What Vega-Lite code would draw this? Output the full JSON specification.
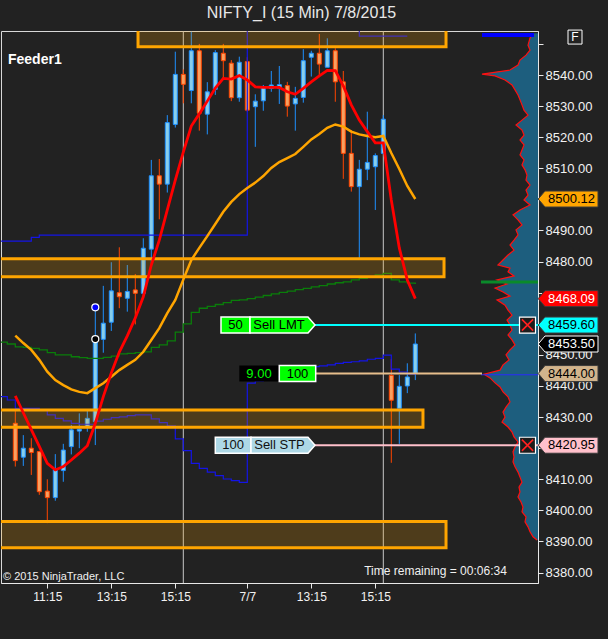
{
  "$schema": "https://vega.github.io/schema/vega-lite/v6.json",
  "width": 537,
  "height": 552,
  "autosize": {"type": "none"},
  "padding": {"left": 1, "top": 31, "right": 70, "bottom": 56},
  "background": "#222222",
  "config": {
    "font": "Liberation Sans",
    "view": {"stroke": "#d8d8d8", "strokeWidth": 1, "fill": "#222222"}
  },
  "title": {"text": "NIFTY_I (15 Min)  7/8/2015", "color": "#e8e8e8", "fontSize": 16, "fontWeight": "normal", "font": "Liberation Sans", "anchor": "middle", "frame": "group", "offset": 7, "dx": 32},
  "datasets": {
    "bars": [
      {"i":0,"o":8428.0,"h":8432.1,"l":8414.1,"c":8416.0},
      {"i":1,"o":8417.1,"h":8424.2,"l":8414.3,"c":8420.0},
      {"i":2,"o":8420.0,"h":8423.2,"l":8411.4,"c":8418.6},
      {"i":3,"o":8418.9,"h":8419.0,"l":8405.0,"c":8406.0},
      {"i":4,"o":8406.2,"h":8410.0,"l":8395.9,"c":8404.1},
      {"i":5,"o":8404.1,"h":8418.1,"l":8403.1,"c":8413.0},
      {"i":6,"o":8412.8,"h":8421.4,"l":8409.2,"c":8419.4},
      {"i":7,"o":8420.5,"h":8427.5,"l":8418.0,"c":8425.9},
      {"i":8,"o":8425.5,"h":8431.2,"l":8420.0,"c":8426.1},
      {"i":9,"o":8426.9,"h":8432.0,"l":8425.3,"c":8429.6},
      {"i":10,"o":8428.5,"h":8465.3,"l":8421.0,"c":8454.8},
      {"i":11,"o":8455.0,"h":8472.2,"l":8450.7,"c":8460.2},
      {"i":12,"o":8460.5,"h":8479.8,"l":8457.7,"c":8470.6},
      {"i":13,"o":8470.0,"h":8484.6,"l":8465.0,"c":8468.7},
      {"i":14,"o":8468.2,"h":8478.9,"l":8463.9,"c":8470.4},
      {"i":15,"o":8470.9,"h":8476.0,"l":8459.8,"c":8469.8},
      {"i":16,"o":8469.8,"h":8487.5,"l":8468.5,"c":8484.3},
      {"i":17,"o":8484.0,"h":8512.7,"l":8478.9,"c":8507.6},
      {"i":18,"o":8507.6,"h":8513.0,"l":8493.6,"c":8504.9},
      {"i":19,"o":8504.9,"h":8527.1,"l":8502.2,"c":8524.7},
      {"i":20,"o":8524.1,"h":8547.5,"l":8523.1,"c":8540.2},
      {"i":21,"o":8540.2,"h":8541.8,"l":8530.9,"c":8537.0},
      {"i":22,"o":8535.0,"h":8553.9,"l":8530.9,"c":8547.8},
      {"i":23,"o":8547.8,"h":8550.0,"l":8522.1,"c":8527.7},
      {"i":24,"o":8527.4,"h":8537.7,"l":8520.9,"c":8534.6},
      {"i":25,"o":8535.4,"h":8548.0,"l":8533.6,"c":8547.2},
      {"i":26,"o":8547.0,"h":8550.0,"l":8538.9,"c":8544.6},
      {"i":27,"o":8543.8,"h":8544.8,"l":8531.6,"c":8532.7},
      {"i":28,"o":8532.7,"h":8545.9,"l":8531.4,"c":8544.1},
      {"i":29,"o":8544.3,"h":8545.7,"l":8528.2,"c":8528.7},
      {"i":30,"o":8529.8,"h":8533.8,"l":8516.9,"c":8531.6},
      {"i":31,"o":8531.7,"h":8536.8,"l":8528.5,"c":8536.0},
      {"i":32,"o":8535.7,"h":8541.3,"l":8534.6,"c":8536.8},
      {"i":33,"o":8535.8,"h":8542.9,"l":8530.7,"c":8536.9},
      {"i":34,"o":8536.6,"h":8537.8,"l":8526.6,"c":8530.0},
      {"i":35,"o":8530.7,"h":8536.2,"l":8522.1,"c":8532.5},
      {"i":36,"o":8532.8,"h":8548.3,"l":8531.1,"c":8544.6},
      {"i":37,"o":8545.7,"h":8547.8,"l":8539.5,"c":8547.0},
      {"i":38,"o":8547.0,"h":8553.2,"l":8540.0,"c":8543.5},
      {"i":39,"o":8542.5,"h":8551.8,"l":8542.5,"c":8547.8},
      {"i":40,"o":8547.8,"h":8548.6,"l":8531.4,"c":8537.8},
      {"i":41,"o":8537.8,"h":8541.3,"l":8506.6,"c":8514.8},
      {"i":42,"o":8514.8,"h":8522.3,"l":8502.5,"c":8504.1},
      {"i":43,"o":8504.1,"h":8512.7,"l":8481.2,"c":8509.7},
      {"i":44,"o":8509.7,"h":8528.2,"l":8506.2,"c":8511.9},
      {"i":45,"o":8510.5,"h":8514.8,"l":8496.6,"c":8514.1},
      {"i":46,"o":8514.8,"h":8527.1,"l":8514.5,"c":8525.8},
      {"i":47,"o":8443.4,"h":8448.6,"l":8415.3,"c":8435.4},
      {"i":48,"o":8432.8,"h":8443.5,"l":8421.4,"c":8439.9},
      {"i":49,"o":8440.0,"h":8447.3,"l":8437.7,"c":8442.9},
      {"i":50,"o":8444.1,"h":8456.9,"l":8441.9,"c":8453.5}
    ],
    "ma": [
      {"i":0,"f":8436.8,"s":8456.2},{"i":1,"f":8431.4,"s":8453.8},{"i":2,"f":8426.0,"s":8451.6},
      {"i":3,"f":8420.6,"s":8448.4},{"i":4,"f":8415.1,"s":8444.6},{"i":5,"f":8413.0,"s":8441.9},
      {"i":6,"f":8414.1,"s":8440.3},{"i":7,"f":8416.2,"s":8438.9},{"i":8,"f":8418.4,"s":8438.1},
      {"i":9,"f":8420.8,"s":8437.7},{"i":10,"f":8428.0,"s":8439.3},{"i":11,"f":8436.6,"s":8440.9},
      {"i":12,"f":8444.2,"s":8443.0},{"i":13,"f":8450.9,"s":8445.1},{"i":14,"f":8456.1,"s":8446.8},
      {"i":15,"f":8461.9,"s":8448.4},{"i":16,"f":8468.7,"s":8451.0},{"i":17,"f":8478.9,"s":8454.8},
      {"i":18,"f":8486.9,"s":8458.6},{"i":19,"f":8496.6,"s":8463.4},{"i":20,"f":8506.2,"s":8467.7},
      {"i":21,"f":8515.2,"s":8474.2},{"i":22,"f":8523.6,"s":8480.5},{"i":23,"f":8527.5,"s":8484.4},
      {"i":24,"f":8531.6,"s":8488.2},{"i":25,"f":8535.8,"s":8492.1},{"i":26,"f":8538.9,"s":8496.0},
      {"i":27,"f":8538.7,"s":8499.2},{"i":28,"f":8539.8,"s":8501.7},{"i":29,"f":8538.4,"s":8503.7},
      {"i":30,"f":8536.2,"s":8505.4},{"i":31,"f":8536.0,"s":8507.5},{"i":32,"f":8536.0,"s":8510.1},
      {"i":33,"f":8536.0,"s":8512.0},{"i":34,"f":8534.6,"s":8513.3},{"i":35,"f":8533.8,"s":8514.6},
      {"i":36,"f":8535.7,"s":8516.9},{"i":37,"f":8537.8,"s":8519.3},{"i":38,"f":8539.7,"s":8521.0},
      {"i":39,"f":8541.5,"s":8523.0},{"i":40,"f":8541.4,"s":8524.1},{"i":41,"f":8536.5,"s":8523.4},
      {"i":42,"f":8530.4,"s":8521.8},{"i":43,"f":8525.5,"s":8520.9},{"i":44,"f":8521.8,"s":8520.4},
      {"i":45,"f":8518.2,"s":8520.0},{"i":46,"f":8518.2,"s":8520.4},{"i":47,"f":8499.8,"s":8514.9},
      {"i":48,"f":8484.4,"s":8509.8},{"i":49,"f":8474.1,"s":8504.3},{"i":50,"f":8468.09,"s":8500.12}
    ],
    "steps": [
      {"i":-2,"g":8454.1,"b1":8436.6,"b2":8486.6},{"i":-1,"g":8453.5,"b1":8435.5,"b2":8486.6},
      {"i":0,"g":8452.6,"b1":8432.8,"b2":8486.6},{"i":1,"g":8452.4,"b1":8432.8,"b2":8486.6},
      {"i":2,"g":8452.1,"b1":8432.8,"b2":8487.8},{"i":3,"g":8451.6,"b1":8432.3,"b2":8488.5},
      {"i":4,"g":8450.7,"b1":8430.7,"b2":8488.5},{"i":5,"g":8450.0,"b1":8429.6,"b2":8488.5},
      {"i":6,"g":8450.0,"b1":8428.8,"b2":8488.5},{"i":7,"g":8449.4,"b1":8428.0,"b2":8488.5},
      {"i":8,"g":8449.1,"b1":8427.7,"b2":8488.5},{"i":9,"g":8448.9,"b1":8427.7,"b2":8488.5},
      {"i":10,"g":8448.9,"b1":8428.7,"b2":8488.5},{"i":11,"g":8449.2,"b1":8429.3,"b2":8488.5},
      {"i":12,"g":8449.6,"b1":8429.8,"b2":8488.5},{"i":13,"g":8450.3,"b1":8430.1,"b2":8488.5},
      {"i":14,"g":8450.5,"b1":8430.5,"b2":8488.5},{"i":15,"g":8450.7,"b1":8430.7,"b2":8488.5},
      {"i":16,"g":8451.0,"b1":8430.7,"b2":8488.5},{"i":17,"g":8452.4,"b1":8429.4,"b2":8488.5},
      {"i":18,"g":8453.2,"b1":8428.2,"b2":8488.5},{"i":19,"g":8454.5,"b1":8427.2,"b2":8488.5},
      {"i":20,"g":8457.3,"b1":8423.0,"b2":8488.5},{"i":21,"g":8460.0,"b1":8419.2,"b2":8488.5},
      {"i":22,"g":8463.7,"b1":8415.1,"b2":8488.5},{"i":23,"g":8465.0,"b1":8413.5,"b2":8488.5},
      {"i":24,"g":8465.6,"b1":8412.3,"b2":8488.5},{"i":25,"g":8466.2,"b1":8411.2,"b2":8488.5},
      {"i":26,"g":8466.8,"b1":8410.1,"b2":8488.5},{"i":27,"g":8467.5,"b1":8409.6,"b2":8488.5},
      {"i":28,"g":8467.7,"b1":8409.0,"b2":8488.5},{"i":29,"g":8468.1,"b1":8440.9,"b2":8570},
      {"i":30,"g":8468.6,"b1":8441.6,"b2":8570},{"i":31,"g":8469.1,"b1":8442.3,"b2":8570},
      {"i":32,"g":8469.6,"b1":8442.9,"b2":8570},{"i":33,"g":8470.1,"b1":8443.5,"b2":8570},
      {"i":34,"g":8470.5,"b1":8444.2,"b2":8570},{"i":35,"g":8471.0,"b1":8444.8,"b2":8570},
      {"i":36,"g":8471.4,"b1":8445.8,"b2":8570},{"i":37,"g":8471.9,"b1":8446.2,"b2":8570},
      {"i":38,"g":8472.3,"b1":8446.5,"b2":8570},{"i":39,"g":8472.8,"b1":8446.8,"b2":8570},
      {"i":40,"g":8473.2,"b1":8447.3,"b2":8570},{"i":41,"g":8473.5,"b1":8447.6,"b2":8570},
      {"i":42,"g":8474.1,"b1":8447.8,"b2":8570},{"i":43,"g":8474.6,"b1":8448.1,"b2":8552.5},
      {"i":44,"g":8475.1,"b1":8448.6,"b2":8552.5},{"i":45,"g":8475.7,"b1":8448.9,"b2":8552.5},
      {"i":46,"g":8476.2,"b1":8449.9,"b2":8552.5},{"i":47,"g":8474.1,"b1":8445.4,"b2":8552.5},
      {"i":48,"g":8473.5,"b1":8444.5,"b2":8552.5},{"i":49,"g":8473.1,"b1":8443.9,"b2":8552.5},
      {"i":50,"g":8472.8,"b1":8443.5,"b2":null}
    ],
    "zones": [
      {"x1":15.34,"x2":53.84,"top":8560,"bot":8549.1},
      {"x1":-3,"x2":53.59,"top":8480.9,"bot":8475.1},
      {"x1":-3,"x2":50.96,"top":8432.3,"bot":8426.7},
      {"x1":-3,"x2":53.84,"top":8396.4,"bot":8388.0}
    ],
    "profile": [
      {"price":8553.4,"vol":5},{"price":8551.9,"vol":8},{"price":8549.6,"vol":10},{"price":8548.0,"vol":8},
      {"price":8546.4,"vol":12},{"price":8544.8,"vol":18},{"price":8543.2,"vol":20},{"price":8541.6,"vol":28},
      {"price":8540.3,"vol":56},{"price":8539.7,"vol":43},{"price":8538.4,"vol":33},{"price":8536.8,"vol":26},
      {"price":8535.2,"vol":23},{"price":8533.6,"vol":20},{"price":8532.0,"vol":18},{"price":8530.4,"vol":16},
      {"price":8528.7,"vol":14},{"price":8527.1,"vol":10},{"price":8525.5,"vol":16},{"price":8523.9,"vol":22},
      {"price":8522.3,"vol":16},{"price":8520.7,"vol":14},{"price":8519.1,"vol":18},{"price":8517.5,"vol":14},
      {"price":8515.9,"vol":16},{"price":8514.3,"vol":18},{"price":8512.7,"vol":14},{"price":8511.1,"vol":16},
      {"price":8509.5,"vol":13},{"price":8507.8,"vol":11},{"price":8506.2,"vol":12},{"price":8504.6,"vol":8},
      {"price":8503.0,"vol":12},{"price":8501.4,"vol":10},{"price":8499.8,"vol":14},{"price":8498.2,"vol":8},
      {"price":8496.6,"vol":18},{"price":8495.0,"vol":25},{"price":8493.4,"vol":20},{"price":8491.8,"vol":16},
      {"price":8490.2,"vol":22},{"price":8488.6,"vol":20},{"price":8486.9,"vol":24},{"price":8485.3,"vol":28},
      {"price":8483.7,"vol":24},{"price":8482.1,"vol":30},{"price":8480.5,"vol":35},{"price":8478.9,"vol":40},
      {"price":8477.9,"vol":28},{"price":8476.7,"vol":30},{"price":8475.4,"vol":24},{"price":8474.1,"vol":41},
      {"price":8472.8,"vol":31},{"price":8471.5,"vol":43},{"price":8470.2,"vol":35},{"price":8468.9,"vol":28},
      {"price":8467.7,"vol":41},{"price":8466.0,"vol":33},{"price":8464.4,"vol":30},{"price":8462.8,"vol":26},
      {"price":8461.2,"vol":31},{"price":8459.6,"vol":28},{"price":8458.0,"vol":26},{"price":8456.4,"vol":30},
      {"price":8454.8,"vol":26},{"price":8453.2,"vol":23},{"price":8451.6,"vol":28},{"price":8450.0,"vol":32},
      {"price":8448.4,"vol":29},{"price":8446.8,"vol":35},{"price":8445.1,"vol":38},{"price":8443.8,"vol":54},
      {"price":8442.6,"vol":48},{"price":8441.0,"vol":43},{"price":8439.7,"vol":38},{"price":8438.1,"vol":35},
      {"price":8436.5,"vol":30},{"price":8434.9,"vol":28},{"price":8433.2,"vol":32},{"price":8431.6,"vol":35},
      {"price":8430.0,"vol":33},{"price":8428.4,"vol":36},{"price":8426.8,"vol":30},{"price":8425.2,"vol":26},
      {"price":8423.6,"vol":24},{"price":8422.0,"vol":20},{"price":8420.4,"vol":23},{"price":8418.8,"vol":25},
      {"price":8417.2,"vol":24},{"price":8415.6,"vol":25},{"price":8414.0,"vol":23},{"price":8412.3,"vol":20},
      {"price":8410.7,"vol":18},{"price":8409.1,"vol":16},{"price":8407.5,"vol":19},{"price":8405.9,"vol":18},
      {"price":8404.3,"vol":20},{"price":8402.7,"vol":17},{"price":8401.1,"vol":15},{"price":8399.5,"vol":16},
      {"price":8397.9,"vol":12},{"price":8396.3,"vol":13},{"price":8394.7,"vol":10},{"price":8393.1,"vol":8},
      {"price":8391.5,"vol":5},{"price":8390.5,"vol":1}
    ],
    "flags": [
      {"p":8500.12,"k":"slow"},{"p":8468.09,"k":"fast"},{"p":8459.60,"k":"lmt"},
      {"p":8453.50,"k":"last"},{"p":8444.00,"k":"pos"},{"p":8420.95,"k":"stp"}
    ],
    "orders": [{"p":8459.60,"k":"lmt"},{"p":8420.95,"k":"stp"}],
    "lmt": [{"p":8459.60,"q":"50","t":"Sell LMT"}],
    "stp": [{"p":8420.95,"q":"100","t":"Sell STP"}],
    "pos": [{"p":8444.00,"pnl":"9.00","q":"100"}]
  },
  "resolve": {"scale": {"x": "independent", "y": "independent"}, "axis": {"x": "independent", "y": "independent"}},
  "layer": [
    {
      "data": {"name": "profile"},
      "layer": [
        {
          "mark": {"type": "area", "orient": "horizontal", "color": "#1d5e7e"},
          "encoding": {
            "y": {"field": "price", "type": "quantitative", "scale": {"domain": [8376.65, 8554.15], "nice": false, "zero": false}, "axis": null},
            "x": {"field": "vol", "type": "quantitative", "stack": null, "scale": {"domain": [0, 537], "reverse": true, "nice": false, "zero": false, "padding": 0}, "axis": null},
            "x2": {"datum": 0}
          }
        },
        {
          "mark": {"type": "line", "color": "#ff1010", "strokeWidth": 1.2},
          "encoding": {
            "y": {"field": "price", "type": "quantitative", "axis": null},
            "x": {"field": "vol", "type": "quantitative", "axis": null},
            "order": {"field": "price"}
          }
        },
        {
          "data": {"values": [{"p": 8552.9}]},
          "mark": {"type": "rule", "color": "#0000ff", "strokeWidth": 4},
          "encoding": {"y": {"field": "p", "type": "quantitative", "axis": null}, "x": {"datum": 56, "type": "quantitative", "axis": null}, "x2": {"datum": 4}}
        },
        {
          "data": {"values": [{"p": 8473.4}]},
          "mark": {"type": "rule", "color": "#0a8a2a", "strokeWidth": 3},
          "encoding": {"y": {"field": "p", "type": "quantitative", "axis": null}, "x": {"datum": 57, "type": "quantitative", "axis": null}, "x2": {"datum": 0}}
        },
        {
          "data": {"values": [{"p": 8443.6}]},
          "mark": {"type": "rule", "color": "#2a2aff", "strokeWidth": 1},
          "encoding": {"y": {"field": "p", "type": "quantitative", "axis": null}, "x": {"datum": 57, "type": "quantitative", "axis": null}, "x2": {"datum": 0}}
        }
      ]
    },
    {
      "layer": [
        {
          "data": {"values": [{"i": 21}, {"i": 46}]},
          "mark": {"type": "rule", "color": "#c8c8c8", "strokeWidth": 1},
          "encoding": {"x": {"field": "i", "type": "quantitative"}}
        },
        {
          "data": {"name": "bars"},
          "mark": {"type": "rule", "strokeWidth": 1, "clip": true},
          "encoding": {
            "x": {"field": "i", "type": "quantitative", "scale": {"domain": [-1.7875, 65.3375], "nice": false, "zero": false, "padding": 0},
              "axis": {"orient": "bottom", "values": [4, 12, 20, 29, 37, 45], "labelExpr": "datum.value == 4 ? '11:15' : datum.value == 12 ? '13:15' : datum.value == 20 ? '15:15' : datum.value == 29 ? '7/7' : datum.value == 37 ? '13:15' : '15:15'", "title": null, "grid": false, "tickSize": 5, "tickColor": "#e8e8e8", "domainColor": "#e8e8e8", "labelColor": "#f2f2f2", "labelFontSize": 12, "labelFont": "Liberation Sans", "labelPadding": 3, "labelFlush": false, "labelOverlap": false, "zindex": 0}},
            "y": {"field": "l", "type": "quantitative", "scale": {"domain": [8376.65, 8554.15], "nice": false, "zero": false},
              "axis": {"orient": "right", "tickCount": 17, "labelExpr": "(datum.value == 8550 || datum.value == 8500 || datum.value == 8470 || datum.value == 8460 || datum.value == 8420) ? '' : format(datum.value, '.2f')", "title": null, "grid": false, "tickSize": 5, "tickColor": "#e8e8e8", "domainColor": "#e8e8e8", "labelColor": "#f2f2f2", "labelFontSize": 13, "labelFont": "Liberation Sans", "labelPadding": 2, "labelFlush": false, "labelOverlap": false, "labelBaseline": "middle", "zindex": 0}},
            "y2": {"field": "h"},
            "color": {"condition": {"test": "datum.c >= datum.o", "value": "#1E90FF"}, "value": "#FF4500"}
          }
        },
        {
          "data": {"name": "bars"},
          "mark": {"type": "bar", "width": 4, "strokeWidth": 1, "clip": true},
          "encoding": {
            "x": {"field": "i", "type": "quantitative"},
            "y": {"field": "o", "type": "quantitative"},
            "y2": {"field": "c"},
            "fill": {"condition": {"test": "datum.c >= datum.o", "value": "#87CEEB"}, "value": "#F8A060"},
            "stroke": {"condition": {"test": "datum.c >= datum.o", "value": "#1E90FF"}, "value": "#FF4500"}
          }
        },
        {
          "data": {"name": "steps"},
          "mark": {"type": "line", "color": "#0a7d0a", "strokeWidth": 1.3, "interpolate": "step-after", "clip": true},
          "encoding": {"x": {"field": "i", "type": "quantitative"}, "y": {"field": "g", "type": "quantitative"}}
        },
        {
          "data": {"name": "steps"},
          "mark": {"type": "line", "color": "#1414e6", "strokeWidth": 1.2, "interpolate": "step-after", "clip": true},
          "encoding": {"x": {"field": "i", "type": "quantitative"}, "y": {"field": "b1", "type": "quantitative"}}
        },
        {
          "data": {"name": "steps"},
          "mark": {"type": "line", "color": "#1414e6", "strokeWidth": 1.2, "interpolate": "step-after", "clip": true},
          "encoding": {"x": {"field": "i", "type": "quantitative"}, "y": {"field": "b2", "type": "quantitative"}}
        },
        {
          "data": {"name": "zones"},
          "mark": {"type": "rect", "fill": "#FFA500", "fillOpacity": 0.2, "stroke": "#FFA500", "strokeWidth": 3, "clip": true},
          "encoding": {
            "x": {"field": "x1", "type": "quantitative"},
            "x2": {"field": "x2"},
            "y": {"field": "top", "type": "quantitative"},
            "y2": {"field": "bot"}
          }
        },
        {
          "data": {"name": "ma"},
          "mark": {"type": "line", "color": "#FFA500", "strokeWidth": 2.5, "clip": true},
          "encoding": {"x": {"field": "i", "type": "quantitative"}, "y": {"field": "s", "type": "quantitative"}}
        },
        {
          "data": {"name": "ma"},
          "mark": {"type": "line", "color": "#FF0000", "strokeWidth": 2.8, "clip": true},
          "encoding": {"x": {"field": "i", "type": "quantitative"}, "y": {"field": "f", "type": "quantitative"}}
        },
        {
          "data": {"values": [{"i": 10, "p": 8465.3, "k": "up"}, {"i": 10, "p": 8455.1, "k": "dn"}]},
          "mark": {"type": "point", "shape": "circle", "size": 49, "filled": true, "opacity": 1, "stroke": "#ffffff", "strokeWidth": 1.2},
          "encoding": {
            "x": {"field": "i", "type": "quantitative"},
            "y": {"field": "p", "type": "quantitative"},
            "fill": {"condition": {"test": "datum.k == 'up'", "value": "#0000ff"}, "value": "#000000"}
          }
        },
        {
          "data": {"name": "orders"},
          "mark": {"type": "rule", "strokeWidth": 2},
          "encoding": {
            "x": {"datum": 37.46, "type": "quantitative"},
            "x2": {"datum": 65.34},
            "y": {"field": "p", "type": "quantitative"},
            "color": {"condition": {"test": "datum.k == 'lmt'", "value": "#00FFFF"}, "value": "#FFC0CB"}
          }
        },
        {
          "data": {"name": "pos"},
          "mark": {"type": "rule", "strokeWidth": 2, "color": "#E6BE8C"},
          "encoding": {
            "x": {"datum": 37.55, "type": "quantitative"},
            "x2": {"datum": 58.34},
            "y": {"field": "p", "type": "quantitative"}
          }
        },
        {
          "data": {"name": "lmt"},
          "mark": {"type": "point", "shape": "M-1.8125,-1L1.8125,-1L1.8125,1L-1.8125,1Z", "size": 256, "filled": true, "opacity": 1, "fill": "#00FF00", "stroke": "#ffffff", "strokeWidth": 1.5},
          "encoding": {"x": {"datum": 27.525, "type": "quantitative"}, "y": {"field": "p", "type": "quantitative"}}
        },
        {
          "data": {"name": "lmt"},
          "mark": {"type": "point", "shape": "M0,-1L7.25,-1L8.125,0L7.25,1L0,1Z", "size": 256, "filled": true, "opacity": 1, "fill": "#00FF00", "stroke": "#ffffff", "strokeWidth": 1.5},
          "encoding": {"x": {"datum": 29.3375, "type": "quantitative"}, "y": {"field": "p", "type": "quantitative"}}
        },
        {
          "data": {"name": "lmt"},
          "mark": {"type": "text", "fontSize": 13, "color": "#000000", "align": "center", "baseline": "middle"},
          "encoding": {"x": {"datum": 27.525, "type": "quantitative"}, "y": {"field": "p", "type": "quantitative"}, "text": {"field": "q"}}
        },
        {
          "data": {"name": "lmt"},
          "mark": {"type": "text", "fontSize": 13, "color": "#000000", "align": "center", "baseline": "middle"},
          "encoding": {"x": {"datum": 32.9625, "type": "quantitative"}, "y": {"field": "p", "type": "quantitative"}, "text": {"field": "t"}}
        },
        {
          "data": {"name": "stp"},
          "mark": {"type": "point", "shape": "M-2.23,-1L2.23,-1L2.23,1L-2.23,1Z", "size": 256, "filled": true, "opacity": 1, "fill": "#ADD8E6", "stroke": "#ffffff", "strokeWidth": 1.5},
          "encoding": {"x": {"datum": 27.23, "type": "quantitative"}, "y": {"field": "p", "type": "quantitative"}}
        },
        {
          "data": {"name": "stp"},
          "mark": {"type": "point", "shape": "M0,-1L7.125,-1L8,0L7.125,1L0,1Z", "size": 256, "filled": true, "opacity": 1, "fill": "#ADD8E6", "stroke": "#ffffff", "strokeWidth": 1.5},
          "encoding": {"x": {"datum": 29.4625, "type": "quantitative"}, "y": {"field": "p", "type": "quantitative"}}
        },
        {
          "data": {"name": "stp"},
          "mark": {"type": "text", "fontSize": 13, "color": "#111111", "align": "center", "baseline": "middle"},
          "encoding": {"x": {"datum": 27.23, "type": "quantitative"}, "y": {"field": "p", "type": "quantitative"}, "text": {"field": "q"}}
        },
        {
          "data": {"name": "stp"},
          "mark": {"type": "text", "fontSize": 13, "color": "#111111", "align": "center", "baseline": "middle"},
          "encoding": {"x": {"datum": 33.025, "type": "quantitative"}, "y": {"field": "p", "type": "quantitative"}, "text": {"field": "t"}}
        },
        {
          "data": {"name": "pos"},
          "mark": {"type": "point", "shape": "M-2.4625,-1L2.4625,-1L2.4625,1L-2.4625,1Z", "size": 256, "filled": true, "opacity": 1, "fill": "#000000", "strokeWidth": 0},
          "encoding": {"x": {"datum": 30.4625, "type": "quantitative"}, "y": {"field": "p", "type": "quantitative"}}
        },
        {
          "data": {"name": "pos"},
          "mark": {"type": "point", "shape": "M-2.275,-1L2.275,-1L2.275,1L-2.275,1Z", "size": 256, "filled": true, "opacity": 1, "fill": "#00FF00", "stroke": "#ffffff", "strokeWidth": 1.5},
          "encoding": {"x": {"datum": 35.275, "type": "quantitative"}, "y": {"field": "p", "type": "quantitative"}}
        },
        {
          "data": {"name": "pos"},
          "mark": {"type": "text", "fontSize": 13, "color": "#00FF00", "align": "center", "baseline": "middle"},
          "encoding": {"x": {"datum": 30.4625, "type": "quantitative"}, "y": {"field": "p", "type": "quantitative"}, "text": {"field": "pnl"}}
        },
        {
          "data": {"name": "pos"},
          "mark": {"type": "text", "fontSize": 13, "color": "#000000", "align": "center", "baseline": "middle"},
          "encoding": {"x": {"datum": 35.275, "type": "quantitative"}, "y": {"field": "p", "type": "quantitative"}, "text": {"field": "q"}}
        },
        {
          "data": {"name": "orders"},
          "mark": {"type": "point", "shape": "square", "size": 256, "filled": true, "opacity": 1, "fill": "#1c1c1c", "stroke": "#ffffff", "strokeWidth": 1.2},
          "encoding": {"x": {"datum": 64.025, "type": "quantitative"}, "y": {"field": "p", "type": "quantitative"}}
        },
        {
          "data": {"name": "orders"},
          "mark": {"type": "point", "shape": "M-0.7,-0.7L0.7,0.7M-0.7,0.7L0.7,-0.7", "size": 256, "filled": false, "opacity": 1, "color": "#ff2020", "strokeWidth": 1.6},
          "encoding": {"x": {"datum": 64.025, "type": "quantitative"}, "y": {"field": "p", "type": "quantitative"}}
        },
        {
          "data": {"name": "flags"},
          "mark": {"type": "point", "shape": "M0,-1L6.625,-1L6.625,1L0,1L-0.85,0Z", "size": 256, "filled": true, "opacity": 1, "strokeWidth": 1},
          "encoding": {
            "x": {"datum": 66.2125, "type": "quantitative"},
            "y": {"field": "p", "type": "quantitative"},
            "fill": {"field": "k", "type": "nominal", "scale": {"domain": ["slow", "fast", "lmt", "last", "pos", "stp"], "range": ["#FFA500", "#FF0000", "#00FFFF", "#000000", "#D2B48C", "#FFC0CB"]}, "legend": null},
            "stroke": {"condition": {"test": "datum.k == 'last'", "value": "#ffffff"}, "value": "#3a3a3a"}
          }
        },
        {
          "data": {"name": "flags"},
          "mark": {"type": "text", "fontSize": 13, "align": "center", "baseline": "middle"},
          "encoding": {
            "x": {"datum": 69.525, "type": "quantitative"},
            "y": {"field": "p", "type": "quantitative"},
            "text": {"field": "p", "type": "quantitative", "format": ".2f"},
            "color": {"condition": {"test": "datum.k == 'fast' || datum.k == 'last'", "value": "#ffffff"}, "value": "#000000"}
          }
        },
        {
          "data": {"values": [{"t": "F"}]},
          "mark": {"type": "point", "shape": "square", "size": 196, "filled": false, "opacity": 1, "color": "#ffffff", "strokeWidth": 1},
          "encoding": {"x": {"datum": 69.9625, "type": "quantitative"}, "y": {"datum": 8552.2, "type": "quantitative"}}
        },
        {
          "data": {"values": [{"t": "F"}]},
          "mark": {"type": "text", "fontSize": 12, "color": "#ffffff", "align": "center", "baseline": "middle"},
          "encoding": {"x": {"datum": 69.9625, "type": "quantitative"}, "y": {"datum": 8552.2, "type": "quantitative"}, "text": {"field": "t"}}
        },
        {
          "data": {"values": [{"t": "Feeder1"}]},
          "mark": {"type": "text", "fontSize": 14, "fontWeight": "bold", "color": "#ffffff", "align": "left", "baseline": "middle"},
          "encoding": {"x": {"datum": -0.9125, "type": "quantitative"}, "y": {"datum": 8544.8, "type": "quantitative"}, "text": {"field": "t"}}
        },
        {
          "data": {"values": [{"t": "© 2015 NinjaTrader, LLC"}]},
          "mark": {"type": "text", "fontSize": 11, "color": "#f0f0f0", "align": "left", "baseline": "middle"},
          "encoding": {"x": {"datum": -1.5375, "type": "quantitative"}, "y": {"datum": 8378.6, "type": "quantitative"}, "text": {"field": "t"}}
        },
        {
          "data": {"values": [{"t": "Time remaining = 00:06:34"}]},
          "mark": {"type": "text", "fontSize": 12, "color": "#f0f0f0", "align": "center", "baseline": "middle"},
          "encoding": {"x": {"datum": 52.525, "type": "quantitative"}, "y": {"datum": 8380.5, "type": "quantitative"}, "text": {"field": "t"}}
        }
      ]
    }
  ]
}
